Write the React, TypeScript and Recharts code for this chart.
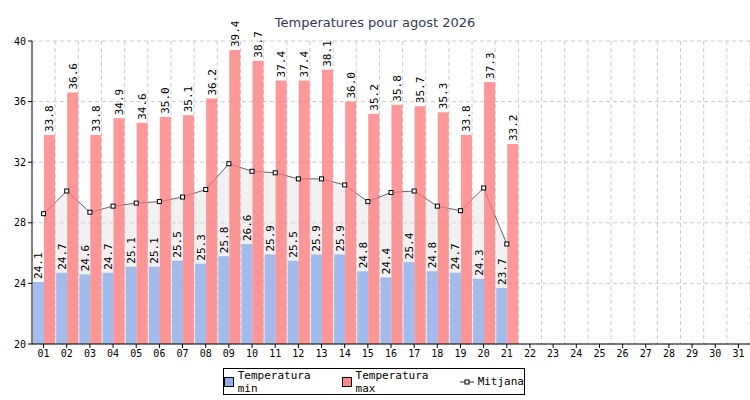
import { ComposedChart, Bar, Area, XAxis, YAxis, CartesianGrid, LabelList } from "recharts";

const days = Array.from({ length: 31 }, (_, i) => String(i + 1).padStart(2, "0"));
const minTemps = [24.1, 24.7, 24.6, 24.7, 25.1, 25.1, 25.5, 25.3, 25.8, 26.6, 25.9, 25.5, 25.9, 25.9, 24.8, 24.4, 25.4, 24.8, 24.7, 24.3, 23.7];
const maxTemps = [33.8, 36.6, 33.8, 34.9, 34.6, 35.0, 35.1, 36.2, 39.4, 38.7, 37.4, 37.4, 38.1, 36.0, 35.2, 35.8, 35.7, 35.3, 33.8, 37.3, 33.2];
const meanTemps = [28.6, 30.1, 28.7, 29.1, 29.3, 29.4, 29.7, 30.2, 31.9, 31.4, 31.3, 30.9, 30.9, 30.5, 29.4, 30.0, 30.1, 29.1, 28.8, 30.3, 26.6];
const yTicks = [20, 24, 28, 32, 36, 40];

const data = days.map((d, i) => ({
  day: d,
  min: minTemps[i] ?? null,
  max: maxTemps[i] ?? null,
  mean: meanTemps[i] ?? null,
}));

const MONO = "'DejaVu Sans Mono', monospace";

function VLabel(props: any) {
  const { x, y, width, value } = props;
  if (value == null) return null;
  const cx = x + width / 2 + 4;
  const cy = y - 3;
  return (
    <text x={cx} y={cy} transform={`rotate(-90 ${cx} ${cy})`} fontSize={11} fontFamily={MONO} fill="#000">
      {value.toFixed(1)}
    </text>
  );
}

function SquareDot(props: any) {
  const { cx, cy, value } = props;
  if (value == null || cx == null || cy == null) return null;
  return <rect x={cx - 2} y={cy - 2} width={4} height={4} fill="#fff" stroke="#000" strokeWidth={1} />;
}

export default function App() {
  return (
    <div style={{ position: "absolute", left: 0, top: 0, width: 750, height: 400, background: "#fff" }}>
      <div style={{ position: "absolute", top: 15, width: 750, textAlign: "center", fontFamily: "'DejaVu Sans', sans-serif", fontSize: 13, color: "#333a55" }}>
        Temperatures pour agost 2026
      </div>
      <ComposedChart
        width={750}
        height={362}
        data={data}
        margin={{ top: 41, right: 0, left: 0, bottom: 0 }}
        barGap={0}
        barCategoryGap={1}
      >
        <CartesianGrid
          stroke="#ccc"
          strokeDasharray="4 3"
          verticalCoordinatesGenerator={({ offset }: any) =>
            Array.from({ length: 31 }, (_, i) => offset.left + ((i + 1) * offset.width) / 31)
          }
        />
        <XAxis
          dataKey="day"
          tick={{ fontSize: 10, fontFamily: MONO, fill: "#000" }}
          tickLine={{ stroke: "#000" }}
          axisLine={{ stroke: "#000" }}
          tickSize={4}
          height={18}
          interval={0}
        />
        <YAxis
          domain={[20, 40]}
          ticks={yTicks}
          allowDataOverflow
          tick={{ fontSize: 10, fontFamily: MONO, fill: "#000" }}
          tickLine={{ stroke: "#000" }}
          axisLine={{ stroke: "#000" }}
          tickSize={4}
          width={32}
        />
        <Area
          dataKey="mean"
          type="linear"
          stroke="#000"
          strokeWidth={0.6}
          fill="#ddd"
          fillOpacity={0.4}
          baseValue={20}
          dot={<SquareDot />}
          activeDot={false}
          isAnimationActive={false}
          connectNulls={false}
        />
        <Bar dataKey="min" fill="#8faeea" fillOpacity={0.8} isAnimationActive={false}>
          <LabelList dataKey="min" content={<VLabel />} />
        </Bar>
        <Bar dataKey="max" fill="#f77" fillOpacity={0.75} isAnimationActive={false}>
          <LabelList dataKey="max" content={<VLabel />} />
        </Bar>
      </ComposedChart>
      <div
        style={{
          position: "absolute",
          left: 223,
          top: 368,
          width: 302,
          height: 27,
          border: "1px solid #000",
          boxSizing: "border-box",
          display: "flex",
          alignItems: "center",
          justifyContent: "center",
          gap: 8,
          fontFamily: MONO,
          fontSize: 11,
        }}
      >
        <span style={{ display: "flex", alignItems: "center", gap: 4 }}>
          <span style={{ width: 10, height: 10, background: "#8faeea", border: "1px solid #000", boxSizing: "border-box" }} />
          Temperatura min
        </span>
        <span style={{ display: "flex", alignItems: "center", gap: 4 }}>
          <span style={{ width: 10, height: 10, background: "#f88", border: "1px solid #000", boxSizing: "border-box" }} />
          Temperatura max
        </span>
        <span style={{ display: "flex", alignItems: "center", gap: 4 }}>
          <svg width={14} height={10}>
            <line x1={0} y1={5} x2={14} y2={5} stroke="#000" strokeWidth={0.8} />
            <rect x={5} y={3} width={4} height={4} fill="#fff" stroke="#000" />
          </svg>
          Mitjana
        </span>
      </div>
    </div>
  );
}
